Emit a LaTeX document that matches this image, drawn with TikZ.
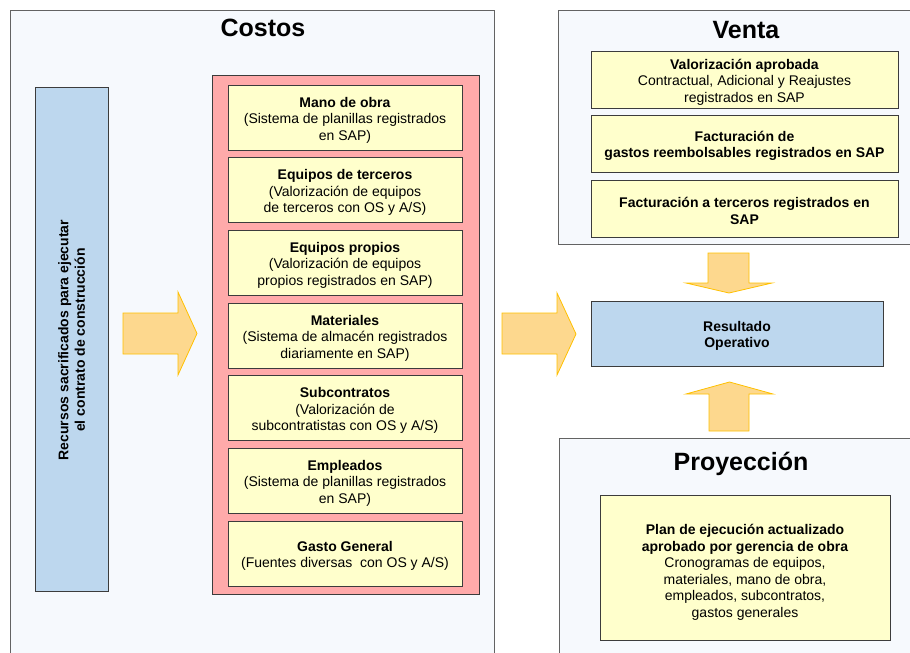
\documentclass[tikz,border=0pt]{standalone}
\usepackage{fontspec}
\setmainfont{Liberation Sans}
\definecolor{panelfill}{RGB}{246,249,253}
\definecolor{bluefill}{RGB}{189,215,238}
\definecolor{pinkfill}{RGB}{255,170,170}
\definecolor{yelfill}{RGB}{255,255,204}
\definecolor{arrfill}{RGB}{253,216,142}
\definecolor{arrdraw}{RGB}{255,192,0}
\definecolor{edge}{RGB}{60,60,60}
\newcommand{\tstr}{\rule{0pt}{15pt}}
\tikzset{
  panel/.style={draw=edge!80, fill=panelfill, line width=1.2pt, inner sep=0pt, anchor=north west},
  ttl/.style={font=\fontsize{25}{29}\selectfont\bfseries, anchor=base},
  txt/.style={font=\fontsize{14}{16.5}\selectfont, align=center, inner sep=0pt},
  item/.style={txt, draw=edge, line width=0.9pt, fill=yelfill},
  bluebox/.style={txt, draw=edge, line width=0.9pt, fill=bluefill},
  pinkbox/.style={draw=edge, line width=0.9pt, fill=pinkfill, inner sep=0pt},
  bigarrow/.style={draw=arrdraw, fill=arrfill, line width=0.8pt, line join=miter}
}
\begin{document}
\begin{tikzpicture}[x=1pt,y=-1pt]
\useasboundingbox (0,0) rectangle (910,653);
\begin{scope}
\clip (0,0) rectangle (910,653);
% panels
\node[panel, minimum width=484pt, minimum height=660pt] (costos) at (10,10) {};
\node[panel, minimum width=360pt, minimum height=234pt] (venta) at (558,10) {};
\node[panel, minimum width=360pt, minimum height=230pt] (proy) at (559,438) {};
\end{scope}
\node[ttl] (tcostos) at (263,36) {Costos};
\node[ttl] (tventa) at (746,38) {Venta};
\node[ttl] (tproy) at (741,470) {Proyección};

% left blue box
\node[draw=edge, line width=0.9pt, fill=bluefill, minimum width=73pt, minimum height=504pt] (rec) at (71.5,339) {};
\node[txt, rotate=90, font=\fontsize{14}{16.5}\selectfont\bfseries] (rectxt) at (71.5,340) {Recursos sacrificados para ejecutar\\el contrato de construcción};

% pink container
\node[pinkbox, minimum width=267pt, minimum height=519pt] (pink) at (345.5,334.5) {};
\node[item, minimum width=234pt, minimum height=65pt] (c1) at (345,117.5) {\tstr\textbf{Mano de obra}\\(Sistema de planillas registrados\\en SAP)};
\node[item, minimum width=234pt, minimum height=65pt] (c2) at (345,190.2) {\tstr\textbf{Equipos de terceros}\\(Valorización de equipos\\de terceros con OS y A/S)};
\node[item, minimum width=234pt, minimum height=65pt] (c3) at (345,262.8) {\tstr\textbf{Equipos propios}\\(Valorización de equipos\\propios registrados en SAP)};
\node[item, minimum width=234pt, minimum height=65pt] (c4) at (345,335.5) {\tstr\textbf{Materiales}\\(Sistema de almacén registrados\\diariamente en SAP)};
\node[item, minimum width=234pt, minimum height=65pt] (c5) at (345,408.2) {\tstr\textbf{Subcontratos}\\(Valorización de\\subcontratistas con OS y A/S)};
\node[item, minimum width=234pt, minimum height=65pt] (c6) at (345,480.8) {\tstr\textbf{Empleados}\\(Sistema de planillas registrados\\en SAP)};
\node[item, minimum width=234pt, minimum height=65pt] (c7) at (345,553.5) {\tstr\textbf{Gasto General}\\(Fuentes diversas\ \ con OS y A/S)};

% venta items
\node[item, minimum width=307pt, minimum height=57pt] (v1) at (744.5,79.5) {\tstr\textbf{Valorización aprobada}\\Contractual, Adicional y Reajustes\\registrados en SAP};
\node[item, minimum width=307pt, minimum height=57pt] (v2) at (744.5,143.5) {\tstr\textbf{Facturación de}\\\textbf{gastos reembolsables registrados en SAP}};
\node[item, minimum width=307pt, minimum height=57pt] (v3) at (744.5,208.5) {\tstr\textbf{Facturación a terceros registrados en}\\\textbf{SAP}};

% resultado
\node[bluebox, minimum width=292pt, minimum height=65pt] (res) at (737,333.5) {\tstr\textbf{Resultado}\\\textbf{Operativo}};

% proyeccion item
\node[item, minimum width=290pt, minimum height=145pt] (plan) at (745,567.5) {\rule{0pt}{20pt}\textbf{Plan de ejecución actualizado}\\\textbf{aprobado por gerencia de obra}\\Cronogramas de equipos,\\materiales, mano de obra,\\empleados, subcontratos,\\gastos generales};

% block arrows
\draw[bigarrow] (123,313) -- (178,313) -- (178,292) -- (197,333.5) -- (178,375) -- (178,354) -- (123,354) -- cycle;
\draw[bigarrow] (502,313) -- (557,313) -- (557,293) -- (576,334) -- (557,375) -- (557,354) -- (502,354) -- cycle;
\draw[bigarrow] (708,253) -- (749,253) -- (749,283) -- (772,283) -- (729,293) -- (686,283) -- (708,283) -- cycle;
\draw[bigarrow] (709,431) -- (749,431) -- (749,394) -- (773,394) -- (729.5,382) -- (686,394) -- (709,394) -- cycle;
\end{tikzpicture}
\end{document}
